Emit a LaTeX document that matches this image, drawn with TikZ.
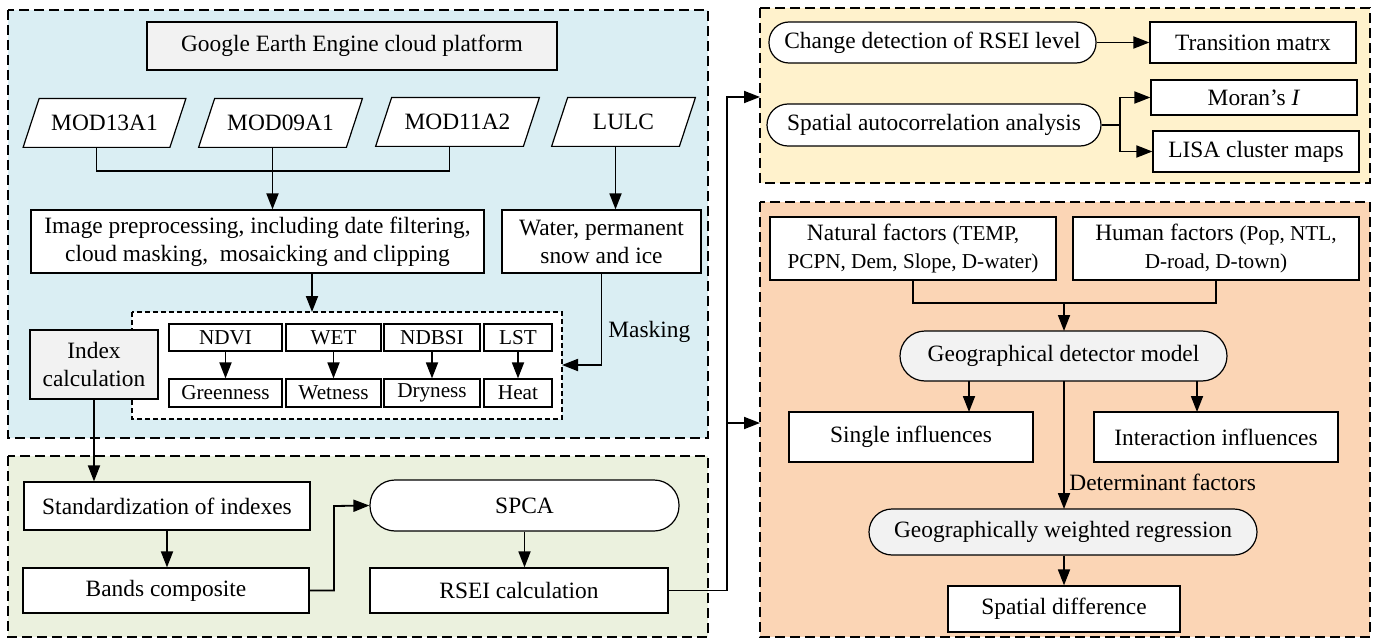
\documentclass[tikz,border=0pt]{standalone}
\usepackage{fontspec}
\setmainfont{Liberation Serif}
\usetikzlibrary{arrows.meta,calc}
\definecolor{pblue}{HTML}{DAEEF3}
\definecolor{pgreen}{HTML}{EBF1DE}
\definecolor{pyellow}{HTML}{FFF2CC}
\definecolor{porange}{HTML}{FBD5B5}
\definecolor{boxgray}{HTML}{F2F2F2}
\newcommand{\fm}{\fontsize{11.7}{14}\selectfont}
\newcommand{\fsm}{\fontsize{10.6}{13}\selectfont}
\begin{document}
\begin{tikzpicture}[x=0.5pt,y=-0.5pt,
  panel/.style={draw,line width=0.9pt,dash pattern=on 5pt off 2.5pt},
  innerdash/.style={draw,line width=0.6pt,dash pattern=on 2.5pt off 1.5pt,fill=white},
  bx/.style={draw,line width=0.6pt,fill=white,inner sep=0pt,align=center,font=\fm},
  gbx/.style={bx,fill=boxgray},
  sbx/.style={bx,font=\fsm},
  txt/.style={inner sep=0pt,align=center,font=\fm},
  conn/.style={line width=0.9pt},
  arr/.style={line width=0.9pt,-{Triangle[length=8pt,width=6pt]}},
  para/.style={draw,line width=0.6pt,fill=white}
]
\useasboundingbox (0,0) rectangle (1376,642);
% panels
\fill[pblue] (8,10) rectangle (708,438);
\draw[panel] (8,10) rectangle (708,438);
\fill[pgreen] (8,456) rectangle (708,637);
\draw[panel] (8,456) rectangle (708,637);
\fill[pyellow] (760,8) rectangle (1370,183);
\draw[panel] (760,8) rectangle (1370,183);
\fill[porange] (760,202) rectangle (1370,637);
\draw[panel] (760,202) rectangle (1370,637);

% ---- blue panel
\node[gbx,minimum width=205pt,minimum height=24pt] (gee) at (352,46) {Google Earth Engine cloud platform};

% parallelograms
\foreach \n/\cx/\cy/\w/\t in {m1/104.5/123/146/MOD13A1, m2/280.5/123/147/MOD09A1, m3/457.5/122/147/MOD11A2, lulc/623.5/122/127/LULC}{
  \node[txt,minimum width=\w*0.5pt,minimum height=24pt] (\n) at (\cx,\cy) {};
  \draw[para] ($(\n.south west)+(-8,0)$) -- ($(\n.south east)+(-8,0)$) -- ($(\n.north east)+(8,0)$) -- ($(\n.north west)+(8,0)$) -- cycle;
  \node[txt] at (\n) {\t};
}

\node[bx,minimum width=226.5pt,minimum height=31.5pt] (pre) at (257.5,241.5) {Image preprocessing, including date filtering,\\cloud masking,\ \ mosaicking and clipping};
\node[bx,minimum width=99.5pt,minimum height=31.5pt] (water) at (601.5,241.5) {Water, permanent\\snow and ice};

\coordinate (j1) at ($(m1.south)+(-8,0)$);
\coordinate (j2) at ($(m2.south)+(-8,0)$);
\coordinate (j3) at ($(m3.south)+(-8,0)$);
\coordinate (j4) at ($(lulc.south)+(-8,0)$);
\draw[conn] (j1) -- (j1 |- 0,171) -- (j3 |- 0,171) -- (j3);
\draw[arr] (j2) -- (j2 |- pre.north);
\draw[arr] (j4) -- (j4 |- water.north);

% inner dashed box
\draw[innerdash] (132,312) rectangle (562,419);
\coordinate (innE) at (562,365);

\node[gbx,minimum width=64pt,minimum height=34.5pt] (idx) at (94,364.5) {Index\\calculation};

\foreach \n/\cx/\w/\t/\m/\tt in {ndvi/225.5/113/NDVI/gr/Greenness, wet/333.5/95/WET/we/Wetness, ndbsi/432/96/NDBSI/dr/Dryness, lst/518/68/LST/he/Heat}{
  \node[sbx,minimum width=\w*0.5pt,minimum height=13.5pt] (\n) at (\cx,337.5) {\t};
  \node[sbx,minimum width=\w*0.5pt,minimum height=14pt] (\m) at (\cx,393) {\tt};
  \draw[arr] (\n) -- (\m);
}
\draw[arr] (pre.south -| 312,0) -- (312,312);
\draw[arr] (water.south) -- (water.south |- innE) -- (innE);
\node[txt,anchor=west] (mask) at (608,332) {Masking};

% ---- green panel
\node[bx,minimum width=143pt,minimum height=24pt] (std) at (167,506) {Standardization of indexes};
\node[bx,minimum width=143pt,minimum height=22.5pt] (bands) at (166,590.5) {Bands composite};
\node[bx,rounded corners=12.5pt,minimum width=154.5pt,minimum height=25.5pt] (spca) at (524.5,505.5) {SPCA};
\node[bx,minimum width=149pt,minimum height=22.5pt] (rsei) at (519,590.5) {RSEI calculation};

\draw[arr] (idx.south) -- (idx.south |- std.north);
\draw[arr] (std.south) -- (std.south |- bands.north);
\draw[arr] (bands.east) -- (334,590.5) -- (334,506) -- (spca.west);
\draw[arr] (spca.south) -- (spca.south |- rsei.north);

% ---- yellow panel
\node[bx,rounded corners=10pt,minimum width=163.5pt,minimum height=20.5pt] (cd) at (932.5,42.5) {Change detection of RSEI level};
\node[bx,minimum width=103pt,minimum height=20.5pt] (tm) at (1253,42.5) {Transition matrx};
\node[bx,rounded corners=10.5pt,minimum width=167pt,minimum height=21pt] (saa) at (934,125) {Spatial autocorrelation analysis};
\node[bx,minimum width=103pt,minimum height=17.5pt] (moran) at (1254,97.5) {Moran’s \textit{I}};
\node[bx,minimum width=103pt,minimum height=20.5pt] (lisa) at (1256,151.5) {LISA cluster maps};

\draw[arr] (cd.east) -- (tm.west);
\draw[conn] (saa.east) -- (1120,125);
\draw[arr] (1120,125) -- (1120,97.5) -- (moran.west);
\draw[arr] (1120,125) -- (1120,151.5) -- (lisa.west);

% ---- orange panel
\node[bx,minimum width=143pt,minimum height=31.5pt] (nat) at (913,248.5) {Natural factors {\fsm(TEMP,}\\{\fsm PCPN, Dem, Slope, D-water)}};
\node[bx,minimum width=143pt,minimum height=31.5pt] (hum) at (1216,248.5) {Human factors {\fsm(Pop, NTL,}\\{\fsm D-road, D-town)}};
\node[gbx,rounded corners=12.5pt,minimum width=163.5pt,minimum height=25pt] (gdm) at (1063.5,356) {Geographical detector model};
\node[bx,minimum width=122pt,minimum height=25pt] (single) at (911,437) {Single influences};
\node[bx,minimum width=122pt,minimum height=25pt] (inter) at (1216,437) {Interaction influences};
\node[gbx,rounded corners=11.5pt,minimum width=194pt,minimum height=23pt] (gwr) at (1063,532) {Geographically weighted regression};
\node[bx,minimum width=116pt,minimum height=23pt] (sd) at (1064,609) {Spatial difference};

\draw[conn] (nat.south) -- (nat.south |- 0,303) -- (hum.south |- 0,303) -- (hum.south);
\draw[arr] (1064,303) -- (1064,331);
\draw[arr] (969,381) -- (969,412);
\draw[arr] (1197,381) -- (1197,412);
\draw[arr] (1064,381) -- (1064,509);
\node[txt,anchor=west] (det) at (1069,482) {Determinant factors};
\draw[arr] (gwr.south -| 1064,0) -- (sd.north -| 1064,0);

% ---- main connector
\coordinate (bend) at (727,590.5);
\coordinate (ytgt) at (760,97);
\coordinate (otgt) at (760,423);
\draw[arr] (rsei.east) -- (bend) -- (bend |- ytgt) -- (ytgt);
\draw[arr] (bend |- otgt) -- (otgt);
\end{tikzpicture}
\end{document}
